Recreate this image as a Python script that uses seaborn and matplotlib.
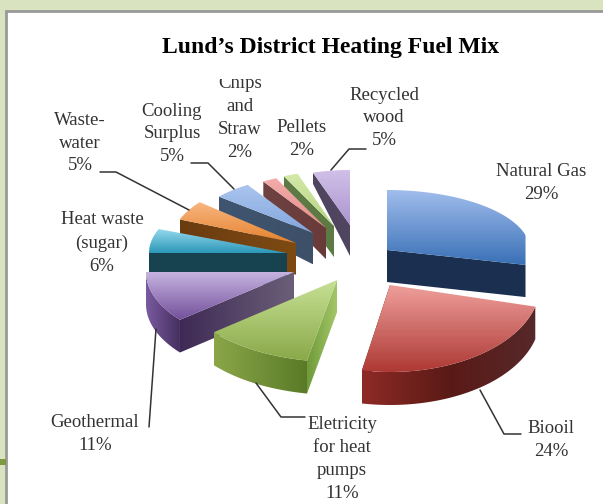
import numpy as np
import matplotlib
matplotlib.use('Agg')
import matplotlib.pyplot as plt
from matplotlib.patches import Polygon, Rectangle
import seaborn as sns

# ── data ──
labels = ['Natural Gas', 'Biooil', 'Eletricity\nfor heat\npumps', 'Geothermal',
          'Heat waste\n(sugar)', 'Waste-\nwater', 'Cooling\nSurplus',
          'Chips\nand\nStraw', 'Pellets', 'Recycled\nwood']
values = [29, 24, 11, 11, 6, 5, 5, 2, 2, 5]
title = 'Lund\u2019s District Heating Fuel Mix'

# ── layout, one entry per slice (exploded apex and rim radii in pixels) ──
apex_x = [387, 390, 337, 294, 287, 296, 313, 326, 334, 350]
apex_y = [250, 285, 280, 272, 253, 243, 233, 228, 226, 225]
rad_x = [143, 150, 160, 148, 138, 125, 122, 117, 118, 120]
rad_y = [60, 87, 82, 75, 65, 64, 57, 55, 55, 55]
label_x = [541, 551, 342, 95, 102, 80, 172, 240, 302, 384]
label_y = [183, 440, 459, 434, 243, 143, 134, 118, 139, 118]

top_colors = [('#a0bcec', '#3a71b7'), ('#ee9e9a', '#ae3934'), ('#c6e095', '#8aa948'),
              ('#c6b3e0', '#72509a'), ('#93d8ec', '#2c98b8'), ('#f8b680', '#e5822e'),
              ('#abc5ee', '#82a6de'), ('#f2aca9', '#e58f8c'), ('#d3e9aa', '#b5d47f'),
              ('#d0c0e8', '#ab94cf')]
rim_colors = [('#1b3050', '#1b3050'), ('#8e2a26', '#5a1a16', '#56282a'), ('#8aa648', '#5a7a28'),
              ('#7a5aa0', '#45305f'), ('#17424f', '#17424f'), ('#6f3f10', '#6f3f10'),
              ('#3f5570', '#3f5570'), ('#6e4342', '#6e4342'), ('#5e7a44', '#5e7a44'),
              ('#4f4560', '#4f4560')]
cut_colors = [('#1b3050', '#1b3050'), ('#5e1c18', '#5e1c18'), ('#6f9a3a', '#a4c768'),
              ('#3f2a55', '#6b5f78'), ('#17424f', '#17424f'), ('#6b3c10', '#7d4a12'),
              ('#3f5570', '#3d5068'), ('#6e4342', '#693a3a'), ('#5e7a44', '#5e7a44'),
              ('#4f4560', '#4f4560')]
draw_order = [9, 8, 7, 6, 5, 4, 0, 3, 2, 1]

sns.set_theme(style='white')
plt.rcParams['font.family'] = ['Liberation Serif', 'DejaVu Serif']

fig = plt.figure(figsize=(6.03, 5.04), dpi=100, facecolor='#d9e3bf')
ax = fig.add_axes([0, 0, 1, 1])
ax.set_axis_off()


def depth(y):
    # the extrusion looks thinner towards the back of the pie
    return np.interp(y, [170, 225, 250, 350], [10, 31, 32, 33])


def grad_fill(verts, colors, vertical=True, z=2):
    verts = np.asarray(verts)
    x0, y0 = verts.min(axis=0)
    x1, y1 = verts.max(axis=0)
    cmap = sns.blend_palette(colors, as_cmap=True)
    ramp = np.linspace(0, 1, 64)
    ramp = ramp[:, None] if vertical else ramp[None, :]
    im = ax.imshow(ramp, cmap=cmap, extent=[x0, x1, y1, y0], aspect='auto', zorder=z,
                   vmin=0, vmax=1, interpolation='bilinear')
    im.set_clip_path(Polygon(verts, closed=True, transform=ax.transData))


# frame of the slide behind the chart
ax.add_patch(Rectangle((6, 11), 600, 500, fc='white', ec='#999999', lw=2, zorder=1))
ax.add_patch(Rectangle((0, 459), 6, 6, fc='#7f9a3e', ec='none', zorder=1))

# slices, back to front
edges = np.cumsum([0] + values) / sum(values) * 2 * np.pi
for n, i in enumerate(draw_order):
    t = np.linspace(edges[i], edges[i + 1], 60)
    rx = apex_x[i] + rad_x[i] * np.sin(t)
    ry = apex_y[i] - rad_y[i] * np.cos(t)
    if i == 0:
        # natural gas rim ends in a straight right edge, no bulge past the cut
        rx = np.minimum(rx, rx[-1])
    rim = np.column_stack([rx, ry])
    low = np.column_stack([rx, ry + depth(ry)])
    a = np.array([apex_x[i], apex_y[i]])
    a_low = a + [0, depth(a[1])]
    z = 2 + n * 0.1
    # back-left slices show the first cut edge, the others the last one
    k = 0 if i >= 2 else -1
    grad_fill([rim[k], a, a_low, low[k]], cut_colors[i], vertical=False, z=z)
    if i in (1, 2, 3):
        grad_fill(np.vstack([rim, low[::-1]]), rim_colors[i], vertical=False, z=z + 0.01)
    grad_fill(np.vstack([a, rim]), top_colors[i], z=z + 0.02)

# labels
for i, (lab, v) in enumerate(zip(labels, values)):
    ax.text(label_x[i], label_y[i], f'{lab}\n{v}%', ha='center', va='center',
            fontsize=13.5, color='#333333', linespacing=1.45, zorder=5)

# top of the Chips label is cut off in the original
ax.add_patch(Rectangle((212, 66), 56, 13, fc='white', ec='none', zorder=6))

# leader lines
leaders = [([100, 116, 189], [172, 172, 210]),
           ([191, 208, 234], [163, 163, 189]),
           ([366, 349, 331], [149, 149, 170]),
           ([149, 156], [427, 329]),
           ([256, 281, 305], [383, 417, 417]),
           ([480, 504, 521], [390, 434, 434])]
for lx, ly in leaders:
    ax.plot(lx, ly, color='#333333', lw=1.1, zorder=5)

ax.text(331, 47, title, ha='center', va='center', fontsize=17, fontweight='bold',
        color='black', zorder=7)

ax.set_xlim(0, 603)
ax.set_ylim(504, 0)
fig.savefig('out.png', dpi=100, facecolor=fig.get_facecolor())
